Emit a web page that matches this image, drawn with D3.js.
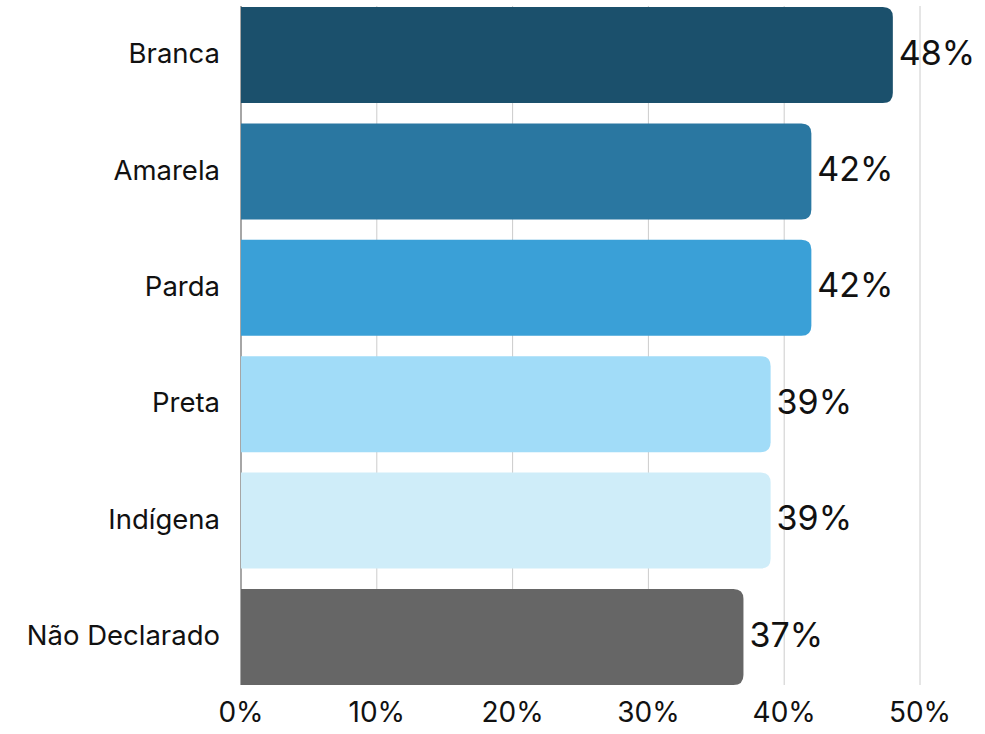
<!DOCTYPE html>
<html lang="pt">
  <head>
    <meta charset="utf-8">
    <title>Gráfico</title>
    <script src="https://d3js.org/d3.v7.min.js"></script>
    <style>
      body { margin: 0; background: #fff; }
      svg text { font-family: Inter, Lato, sans-serif; fill: #111; }
    </style>
  </head>
  <body>
    <div id="myChart"></div>
    <script>
      var categories = ['Branca', 'Amarela', 'Parda', 'Preta', 'Indígena', 'Não Declarado'];
      var values = [0.48, 0.42, 0.42, 0.39, 0.39, 0.37];
      var colors = ['#1b506c', '#2a77a1', '#3aa0d7', '#a1dcf8', '#cfedf9', '#666666'];
      var ticks = [0, 0.1, 0.2, 0.3, 0.4, 0.5];

      var width = 985, height = 734;
      var svg = d3.select('#myChart').append('svg')
          .attr('width', width)
          .attr('height', height);

      var x = d3.scaleLinear().domain([0, 0.5]).range([241, 920]);
      var y = d3.scaleBand().domain(categories).range([-3.2, 695.2])
          .paddingInner(0.175).paddingOuter(0.0875);

      var gridTop = 6, gridBottom = 685;
      var pct = d3.format('.0%');

      // grid lines
      svg.append('g').selectAll('line')
        .data(ticks.slice(1))
        .enter().append('line')
          .attr('x1', function(d) { return x(d); })
          .attr('x2', function(d) { return x(d); })
          .attr('y1', gridTop)
          .attr('y2', gridBottom)
          .attr('stroke', '#cccccc')
          .attr('stroke-width', 1);

      svg.append('line')
        .attr('x1', x(0)).attr('x2', x(0))
        .attr('y1', gridTop).attr('y2', gridBottom)
        .attr('stroke', '#888888')
        .attr('stroke-width', 1.5);

      // bars, rounded on the right
      function barPath(d, i) {
        var x0 = x(0), x1 = x(d), y0 = y(categories[i]), h = y.bandwidth(), r = 10;
        return 'M' + x0 + ',' + y0 +
          'H' + (x1 - r) +
          'Q' + x1 + ',' + y0 + ' ' + x1 + ',' + (y0 + r) +
          'V' + (y0 + h - r) +
          'Q' + x1 + ',' + (y0 + h) + ' ' + (x1 - r) + ',' + (y0 + h) +
          'H' + x0 + 'Z';
      }

      svg.append('g').selectAll('path')
        .data(values)
        .enter().append('path')
          .attr('d', barPath)
          .attr('fill', function(d, i) { return colors[i]; });

      // value labels
      svg.append('g').selectAll('text')
        .data(values)
        .enter().append('text')
          .attr('x', function(d) { return x(d) + 6; })
          .attr('y', function(d, i) { return y(categories[i]) + y.bandwidth() / 2; })
          .attr('dy', '0.28em')
          .style('font-size', '34px')
          .text(function(d) { return pct(d); });

      // category labels
      svg.append('g').selectAll('text')
        .data(categories)
        .enter().append('text')
          .attr('x', 220)
          .attr('y', function(d) { return y(d) + y.bandwidth() / 2; })
          .attr('dy', '0.3em')
          .attr('text-anchor', 'end')
          .style('font-size', '27.5px')
          .text(function(d) { return d; });

      // x tick labels
      svg.append('g').selectAll('text')
        .data(ticks)
        .enter().append('text')
          .attr('x', function(d) { return x(d); })
          .attr('y', 712)
          .attr('dy', '0.35em')
          .attr('text-anchor', 'middle')
          .style('font-size', '28px')
          .text(function(d) { return pct(d); });
    </script>
  </body>
</html>
